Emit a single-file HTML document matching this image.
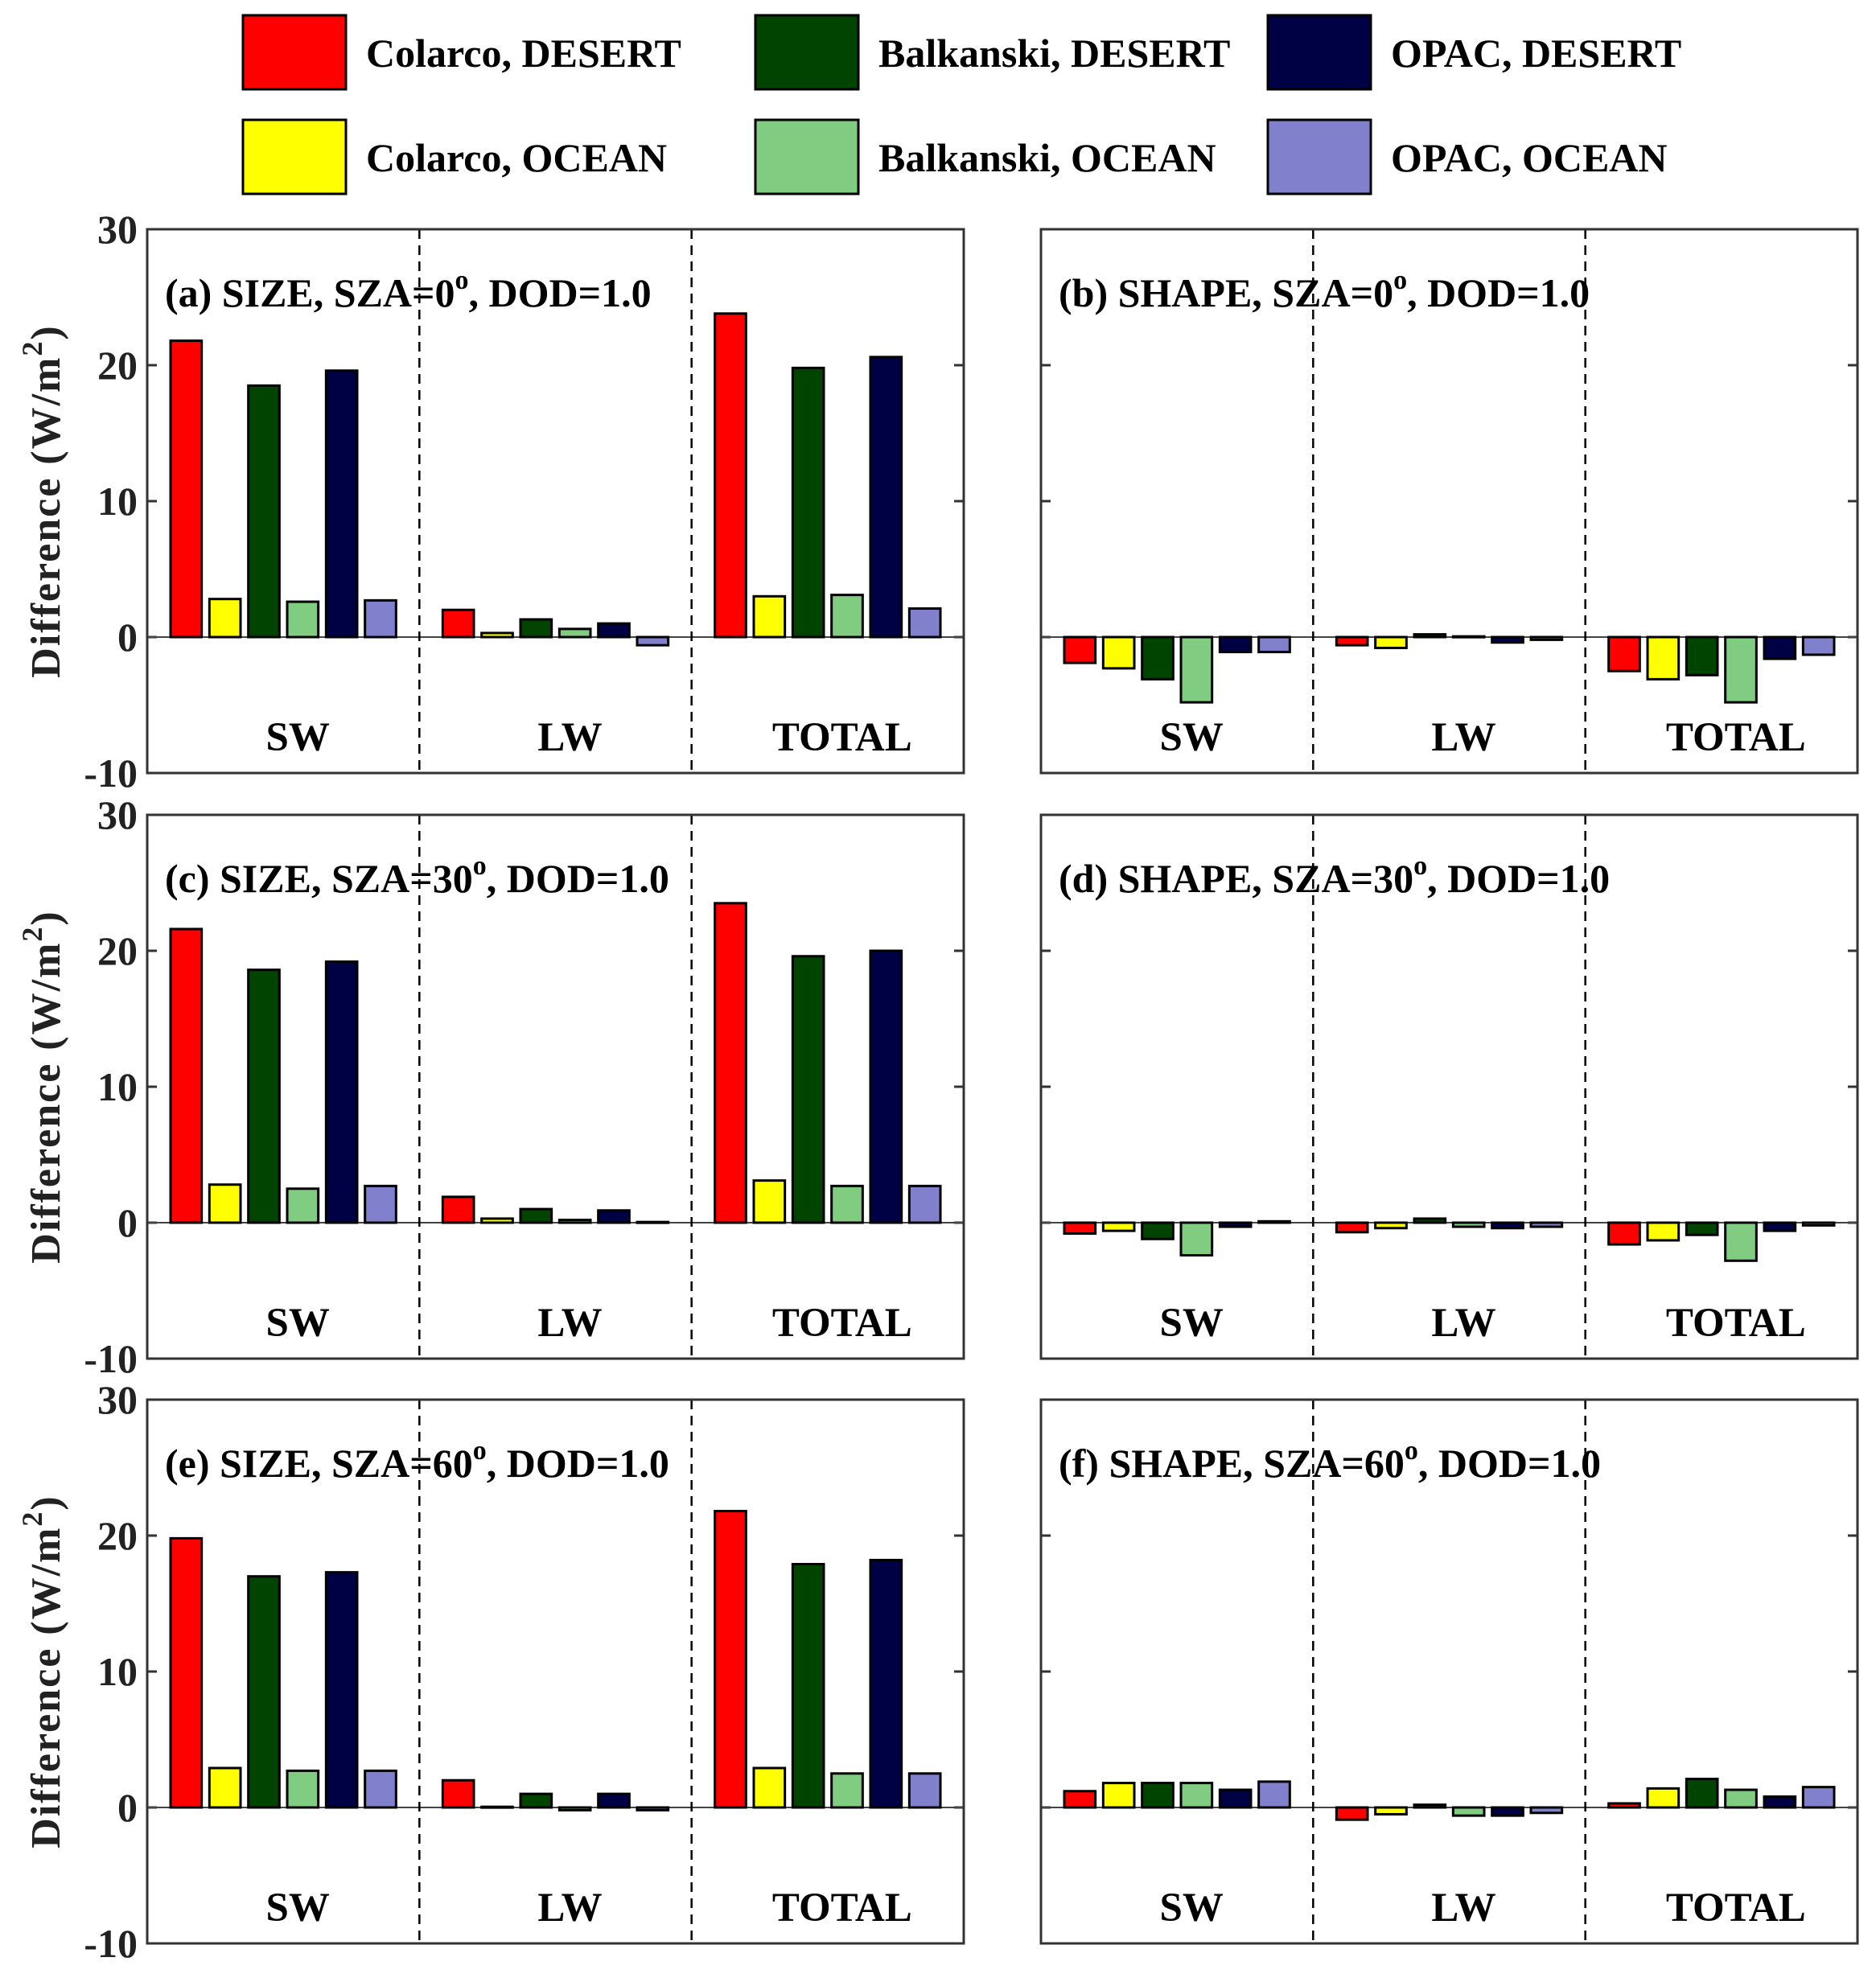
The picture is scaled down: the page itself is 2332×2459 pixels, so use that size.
<!DOCTYPE html>
<html><head><meta charset="utf-8">
<style>
html,body{margin:0;padding:0;background:#fff;}
svg{display:block;font-family:"Liberation Serif",serif;font-weight:bold;}
</style></head>
<body>
<svg id="fig" width="2332" height="2459" viewBox="0 0 2332 2459" xmlns="http://www.w3.org/2000/svg">
<g id="legend"></g>
<g id="panels"></g>
</svg>
<script>
const groups = ["SW","LW","TOTAL"];
const seriesNames = ["Colarco, DESERT","Colarco, OCEAN","Balkanski, DESERT","Balkanski, OCEAN","OPAC, DESERT","OPAC, OCEAN"];
const seriesColors = ["#ff0000","#ffff00","#004400","#80cc80","#000044","#8080cc"];
const yTicks = [30,20,10,0,-10];
const panelTitles = ["(a) SIZE, SZA=0","(b) SHAPE, SZA=0","(c) SIZE, SZA=30","(d) SHAPE, SZA=30","(e) SIZE, SZA=60","(f) SHAPE, SZA=60"];
const valsA = [[21.8,2.8,18.5,2.6,19.6,2.7],[2.0,0.3,1.3,0.6,1.0,-0.6],[23.8,3.0,19.8,3.1,20.6,2.1]];
const valsB = [[-1.9,-2.3,-3.1,-4.8,-1.1,-1.1],[-0.6,-0.8,0.2,0.05,-0.4,-0.2],[-2.5,-3.1,-2.8,-4.8,-1.6,-1.3]];
const valsC = [[21.6,2.8,18.6,2.5,19.2,2.7],[1.9,0.3,1.0,0.2,0.9,0.05],[23.5,3.1,19.6,2.7,20.0,2.7]];
const valsD = [[-0.8,-0.6,-1.2,-2.4,-0.3,0.1],[-0.7,-0.4,0.3,-0.3,-0.4,-0.3],[-1.6,-1.3,-0.9,-2.8,-0.6,-0.2]];
const valsE = [[19.8,2.9,17.0,2.7,17.3,2.7],[2.0,0.05,1.0,-0.2,1.0,-0.2],[21.8,2.9,17.9,2.5,18.2,2.5]];
const valsF = [[1.2,1.8,1.8,1.8,1.3,1.9],[-0.9,-0.5,0.2,-0.6,-0.6,-0.4],[0.3,1.4,2.1,1.3,0.8,1.5]];
const allVals = [valsA,valsB,valsC,valsD,valsE,valsF];

const NS="http://www.w3.org/2000/svg";
function mk(tag,attrs,parent){const e=document.createElementNS(NS,tag);for(const k in attrs)e.setAttribute(k,attrs[k]);parent.appendChild(e);return e;}

const leg=document.getElementById('legend');
const legOrder=[0,2,4,1,3,5];
legOrder.forEach((si,k)=>{
  const col=k%3,row=Math.floor(k/3);
  const x=302+col*637,y=19+row*130;
  const g=mk('g',{},leg);
  
  
  const r=mk('rect',{x:x,y:y,width:128,height:92,fill:seriesColors[si],stroke:'#000','stroke-width':3},g);
  
  
  const t=mk('text',{x:x+153,y:y+64,'font-size':50,fill:'#000'},g);
  t.textContent=seriesNames[si];
  
  
});

const panels=document.getElementById('panels');
const W=1015,H=676,ymin=-10,ymax=30;
const lefts=[183,1294],tops=[285,1013,1740];
for(let p=0;p<6;p++){
  const x0=lefts[p%2],y0=tops[Math.floor(p/2)];
  const ys=v=>y0+(ymax-v)/(ymax-ymin)*H;
  const g=mk('g',{},panels);
  
  
  yTicks.forEach(v=>{
    const y=ys(v);
    if(v!==30&&v!==-10){
      mk('line',{x1:x0,x2:x0+12,y1:y,y2:y,stroke:'#333','stroke-width':3},g);
      mk('line',{x1:x0+W-12,x2:x0+W,y1:y,y2:y,stroke:'#333','stroke-width':3},g);
    }
    if(p%2===0){
      const t=mk('text',{x:x0-12,y:y+17,'font-size':50,'text-anchor':'end',fill:'#222'},g);
      t.textContent=v;
      
      
    }
  });
  if(p%2===0){
    const yc=y0+H/2;
    const t=mk('text',{x:0,y:0,'font-size':52,'text-anchor':'middle',fill:'#222','letter-spacing':'2',transform:`translate(74,${yc}) rotate(-90)`},g);
    t.innerHTML='Difference (W/m<tspan dy="-22" font-size="36">2</tspan><tspan dy="22">)</tspan>';
    
    
  }
  mk('line',{x1:x0,x2:x0+W,y1:ys(0),y2:ys(0),stroke:'#444','stroke-width':2},g);
  const gw=W/3;
  allVals[p].forEach((gv,gi)=>{
    gv.forEach((v,si)=>{
      const cx=x0+gi*gw+gw*(si+1)/7;
      const bw=gw/7*0.8;
      const ya=ys(Math.max(v,0)),yb=ys(Math.min(v,0));
      const r=mk('rect',{x:cx-bw/2,y:ya,width:bw,height:Math.max(yb-ya,1),fill:seriesColors[si],stroke:'#000','stroke-width':3},g);
      
      
    });
    const t=mk('text',{x:x0+gi*gw+gw/2+18,y:y0+648,'font-size':51,'text-anchor':'middle',fill:'#000'},g);
    t.textContent=groups[gi];
    
    
  });
  [1,2].forEach(d=>{
    mk('line',{x1:x0+gw*d,x2:x0+gw*d,y1:y0,y2:y0+H,stroke:'#000','stroke-width':2.5,'stroke-dasharray':'12,8'},g);
  });
  mk('rect',{x:x0,y:y0,width:W,height:H,fill:'none',stroke:'#333','stroke-width':3},g);
  const t=mk('text',{x:x0+22,y:y0+96,'font-size':50,fill:'#000'},g);
  t.innerHTML=panelTitles[p]+'<tspan dy="-22" font-size="34">o</tspan><tspan dy="22">, DOD=1.0</tspan>';
  
  
}
</script>
</body></html>
